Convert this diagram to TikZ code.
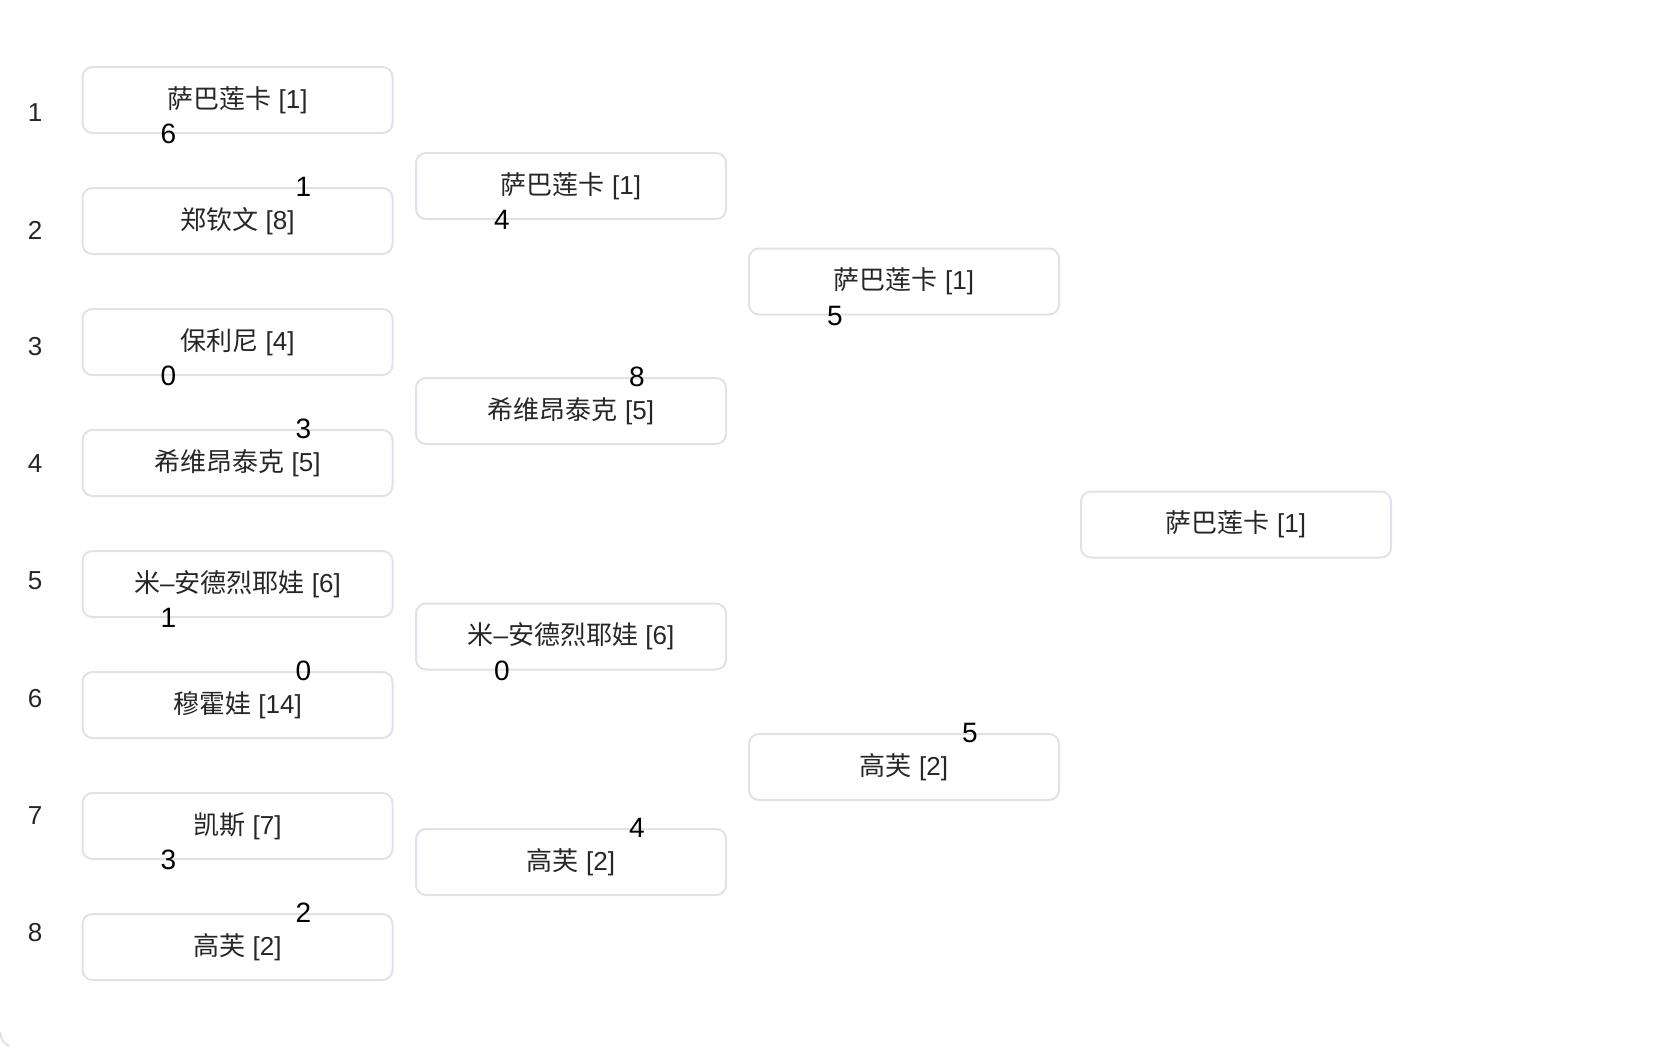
\documentclass[tikz,border=0pt]{standalone}
\usepackage{fontspec}
\setmainfont{Liberation Sans}
\newfontfamily\cjk{Noto Sans CJK SC}
\definecolor{boxline}{RGB}{222,226,234}
\definecolor{txt}{RGB}{38,38,38}
\begin{document}
\begin{tikzpicture}[x=0.5pt,y=-0.5pt,
  pbox/.style={draw=boxline,line width=1pt,rounded corners=5pt,minimum width=155pt,minimum height=33pt,inner sep=0pt,text=txt,font=\fontsize{13}{15}\selectfont},
  score/.style={inner sep=0pt,text=black,font=\fontsize{14}{16}\selectfont},
  rnd/.style={inner sep=0pt,text=txt,font=\fontsize{13}{15}\selectfont}]
\useasboundingbox (0,0) rectangle (1656,1046);
% round labels
\foreach \i/\y in {1/113,2/230,3/347,4/464,5/581,6/699,7/816,8/933}
  \node[rnd] (r\i) at (35,\y) {\i};
% column 1
\node[pbox] (a1) at (237.5,100) {{\cjk 萨巴莲卡} [1]};
\node[pbox] (a2) at (237.5,221) {{\cjk 郑钦文} [8]};
\node[pbox] (a3) at (237.5,342) {{\cjk 保利尼} [4]};
\node[pbox] (a4) at (237.5,463) {{\cjk 希维昂泰克} [5]};
\node[pbox] (a5) at (237.5,584) {{\cjk 米}–{\cjk 安德烈耶娃} [6]};
\node[pbox] (a6) at (237.5,705) {{\cjk 穆霍娃} [14]};
\node[pbox] (a7) at (237.5,826) {{\cjk 凯斯} [7]};
\node[pbox] (a8) at (237.5,947) {{\cjk 高芙} [2]};
% column 2
\node[pbox] (b1) at (571,186) {{\cjk 萨巴莲卡} [1]};
\node[pbox] (b2) at (571,411) {{\cjk 希维昂泰克} [5]};
\node[pbox] (b3) at (571,636.5) {{\cjk 米}–{\cjk 安德烈耶娃} [6]};
\node[pbox] (b4) at (571,862) {{\cjk 高芙} [2]};
% column 3
\node[pbox] (c1) at (904,281.5) {{\cjk 萨巴莲卡} [1]};
\node[pbox] (c2) at (904,767) {{\cjk 高芙} [2]};
% final
\node[pbox] (d1) at (1236,524.5) {{\cjk 萨巴莲卡} [1]};
% scores
\node[score] (s1) at ([xshift=43.5pt]a1.south west) {6};
\node[score] (s2) at ([xshift=111pt]a2.north west) {1};
\node[score] (s3) at ([xshift=43.5pt]a3.south west) {0};
\node[score] (s4) at ([xshift=111pt]a4.north west) {3};
\node[score] (s5) at ([xshift=43.5pt]a5.south west) {1};
\node[score] (s6) at ([xshift=111pt]a6.north west) {0};
\node[score] (s7) at ([xshift=43.5pt]a7.south west) {3};
\node[score] (s8) at ([xshift=111pt]a8.north west) {2};
\node[score] (t1) at ([xshift=43.5pt]b1.south west) {4};
\node[score] (t2) at ([xshift=111pt]b2.north west) {8};
\node[score] (t3) at ([xshift=43.5pt]b3.south west) {0};
\node[score] (t4) at ([xshift=111pt]b4.north west) {4};
\node[score] (u1) at ([xshift=43.5pt]c1.south west) {5};
\node[score] (u2) at ([xshift=111pt]c2.north west) {5};
% outer frame corner
\draw[boxline,line width=1pt] (0,1032) .. controls (1,1039) and (4,1044) .. (9,1046);
\end{tikzpicture}
\end{document}
